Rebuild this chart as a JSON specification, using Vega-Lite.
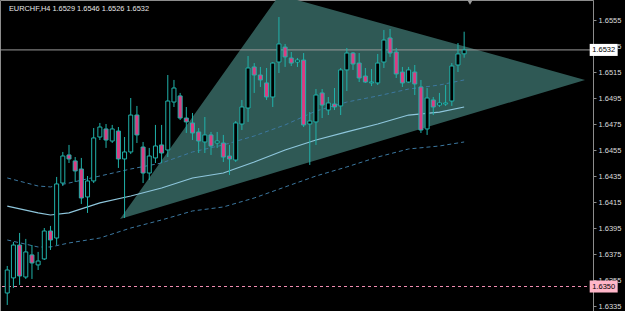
{
  "$schema": "https://vega.github.io/schema/vega-lite/v6.json",
  "autosize": "none",
  "padding": {"left": 0, "top": 0, "right": 32, "bottom": 0},
  "width": 593,
  "height": 313,
  "background": "#000000",
  "config": {
    "view": {"stroke": "#8c8c8c", "strokeWidth": 1}
  },
  "resolve": {"axis": {"y": "independent", "x": "independent"}},
  "datasets": {
    "candles": [
      {"i":0,"o":1.63450,"h":1.63658,"l":1.63358,"c":1.63627},
      {"i":1,"o":1.63566,"h":1.63843,"l":1.63489,"c":1.63819},
      {"i":2,"o":1.63819,"h":1.63912,"l":1.63512,"c":1.63581},
      {"i":3,"o":1.63573,"h":1.63866,"l":1.63558,"c":1.63766},
      {"i":4,"o":1.63743,"h":1.63819,"l":1.63558,"c":1.63681},
      {"i":5,"o":1.63666,"h":1.63766,"l":1.63627,"c":1.63696},
      {"i":6,"o":1.63712,"h":1.63950,"l":1.63704,"c":1.63927},
      {"i":7,"o":1.63927,"h":1.63966,"l":1.63781,"c":1.63858},
      {"i":8,"o":1.63873,"h":1.64343,"l":1.63819,"c":1.64289},
      {"i":9,"o":1.64296,"h":1.64535,"l":1.64273,"c":1.64504},
      {"i":10,"o":1.64512,"h":1.64589,"l":1.64450,"c":1.64481},
      {"i":11,"o":1.64466,"h":1.64496,"l":1.64304,"c":1.64389},
      {"i":12,"o":1.64404,"h":1.64489,"l":1.64135,"c":1.64181},
      {"i":13,"o":1.64189,"h":1.64350,"l":1.64066,"c":1.64312},
      {"i":14,"o":1.64312,"h":1.64719,"l":1.64296,"c":1.64643},
      {"i":15,"o":1.64650,"h":1.64758,"l":1.64627,"c":1.64727},
      {"i":16,"o":1.64712,"h":1.64750,"l":1.64566,"c":1.64627},
      {"i":17,"o":1.64619,"h":1.64743,"l":1.64604,"c":1.64712},
      {"i":18,"o":1.64696,"h":1.64727,"l":1.64412,"c":1.64481},
      {"i":19,"o":1.64481,"h":1.64650,"l":1.64027,"c":1.64535},
      {"i":20,"o":1.64535,"h":1.64950,"l":1.64519,"c":1.64819},
      {"i":21,"o":1.64819,"h":1.64889,"l":1.64604,"c":1.64666},
      {"i":22,"o":1.64573,"h":1.64612,"l":1.64296,"c":1.64373},
      {"i":23,"o":1.64373,"h":1.64566,"l":1.64319,"c":1.64504},
      {"i":24,"o":1.64489,"h":1.64743,"l":1.64450,"c":1.64581},
      {"i":25,"o":1.64589,"h":1.64743,"l":1.64450,"c":1.64527},
      {"i":26,"o":1.64550,"h":1.65127,"l":1.64496,"c":1.64927},
      {"i":27,"o":1.64919,"h":1.65089,"l":1.64881,"c":1.65027},
      {"i":28,"o":1.64966,"h":1.64989,"l":1.64781,"c":1.64796},
      {"i":29,"o":1.64796,"h":1.64881,"l":1.64681,"c":1.64766},
      {"i":30,"o":1.64758,"h":1.64835,"l":1.64627,"c":1.64681},
      {"i":31,"o":1.64689,"h":1.64719,"l":1.64527,"c":1.64619},
      {"i":32,"o":1.64612,"h":1.64804,"l":1.64527,"c":1.64666},
      {"i":33,"o":1.64666,"h":1.64689,"l":1.64512,"c":1.64581},
      {"i":34,"o":1.64604,"h":1.64689,"l":1.64566,"c":1.64619},
      {"i":35,"o":1.64604,"h":1.64666,"l":1.64458,"c":1.64496},
      {"i":36,"o":1.64504,"h":1.64589,"l":1.64358,"c":1.64481},
      {"i":37,"o":1.64473,"h":1.64773,"l":1.64458,"c":1.64758},
      {"i":38,"o":1.64750,"h":1.64935,"l":1.64704,"c":1.64881},
      {"i":39,"o":1.64873,"h":1.65273,"l":1.64766,"c":1.65181},
      {"i":40,"o":1.65189,"h":1.65219,"l":1.64989,"c":1.65127},
      {"i":41,"o":1.65127,"h":1.65189,"l":1.65035,"c":1.65089},
      {"i":42,"o":1.65066,"h":1.65181,"l":1.64935,"c":1.64958},
      {"i":43,"o":1.64958,"h":1.65227,"l":1.64881,"c":1.65219},
      {"i":44,"o":1.65227,"h":1.65573,"l":1.65142,"c":1.65366},
      {"i":45,"o":1.65342,"h":1.65366,"l":1.65189,"c":1.65266},
      {"i":46,"o":1.65258,"h":1.65304,"l":1.65196,"c":1.65219},
      {"i":47,"o":1.65227,"h":1.65258,"l":1.65189,"c":1.65242},
      {"i":48,"o":1.65242,"h":1.65296,"l":1.64727,"c":1.64743},
      {"i":49,"o":1.64750,"h":1.64842,"l":1.64435,"c":1.64773},
      {"i":50,"o":1.64766,"h":1.65019,"l":1.64589,"c":1.64973},
      {"i":51,"o":1.64989,"h":1.65019,"l":1.64796,"c":1.64896},
      {"i":52,"o":1.64858,"h":1.64958,"l":1.64819,"c":1.64912},
      {"i":53,"o":1.64904,"h":1.65027,"l":1.64858,"c":1.64881},
      {"i":54,"o":1.64889,"h":1.65181,"l":1.64819,"c":1.65166},
      {"i":55,"o":1.65166,"h":1.65335,"l":1.65004,"c":1.65296},
      {"i":56,"o":1.65296,"h":1.65304,"l":1.65166,"c":1.65212},
      {"i":57,"o":1.65219,"h":1.65296,"l":1.65073,"c":1.65104},
      {"i":58,"o":1.65119,"h":1.65181,"l":1.65066,"c":1.65073},
      {"i":59,"o":1.65066,"h":1.65173,"l":1.65042,"c":1.65073},
      {"i":60,"o":1.65066,"h":1.65289,"l":1.65050,"c":1.65219},
      {"i":61,"o":1.65227,"h":1.65473,"l":1.65181,"c":1.65396},
      {"i":62,"o":1.65412,"h":1.65481,"l":1.65266,"c":1.65296},
      {"i":63,"o":1.65304,"h":1.65335,"l":1.65104,"c":1.65135},
      {"i":64,"o":1.65150,"h":1.65189,"l":1.65035,"c":1.65066},
      {"i":65,"o":1.65073,"h":1.65189,"l":1.65066,"c":1.65166},
      {"i":66,"o":1.65150,"h":1.65204,"l":1.64973,"c":1.65058},
      {"i":67,"o":1.65035,"h":1.65089,"l":1.64681,"c":1.64704},
      {"i":68,"o":1.64712,"h":1.65027,"l":1.64666,"c":1.64950},
      {"i":69,"o":1.64935,"h":1.64958,"l":1.64819,"c":1.64881},
      {"i":70,"o":1.64896,"h":1.64989,"l":1.64881,"c":1.64912},
      {"i":71,"o":1.64904,"h":1.65050,"l":1.64889,"c":1.64912},
      {"i":72,"o":1.64927,"h":1.65219,"l":1.64889,"c":1.65196},
      {"i":73,"o":1.65204,"h":1.65373,"l":1.65150,"c":1.65289},
      {"i":74,"o":1.6529,"h":1.6546,"l":1.6526,"c":1.6532}
    ],
    "bands": [
      {"i":0,"ma":1.64119,"up":1.64335,"lo":1.63858},
      {"i":5,"ma":1.64066,"up":1.64273,"lo":1.63804},
      {"i":7,"ma":1.64050,"up":1.64266,"lo":1.63804},
      {"i":10,"ma":1.64066,"up":1.64296,"lo":1.63835},
      {"i":15,"ma":1.64143,"up":1.64350,"lo":1.63873},
      {"i":20,"ma":1.64196,"up":1.64404,"lo":1.63950},
      {"i":25,"ma":1.64258,"up":1.64450,"lo":1.64012},
      {"i":30,"ma":1.64335,"up":1.64535,"lo":1.64081},
      {"i":35,"ma":1.64373,"up":1.64589,"lo":1.64112},
      {"i":40,"ma":1.64458,"up":1.64658,"lo":1.64181},
      {"i":45,"ma":1.64550,"up":1.64743,"lo":1.64266},
      {"i":50,"ma":1.64627,"up":1.64850,"lo":1.64350},
      {"i":55,"ma":1.64689,"up":1.64919,"lo":1.64420},
      {"i":60,"ma":1.64750,"up":1.64966,"lo":1.64496},
      {"i":65,"ma":1.64819,"up":1.65019,"lo":1.64558},
      {"i":70,"ma":1.64842,"up":1.65050,"lo":1.64581},
      {"i":74,"ma":1.64881,"up":1.65089,"lo":1.64612}
    ],
    "tri": [
      {"i":18.26,"top":1.64019,"bot":1.64019},
      {"i":44.06,"top":1.65742,"bot":1.64386},
      {"i":93.58,"top":1.65089,"bot":1.65089}
    ],
    "levels": [
      {"p":1.6532,"label":"1.6532","kind":"bid"},
      {"p":1.6350,"label":"1.6350","kind":"alert"}
    ],
    "info": [
      {"t":"EURCHF,H4 1.6529 1.6546 1.6526 1.6532"}
    ],
    "shift": [
      {"i":74.95,"p":1.65689}
    ]
  },
  "layer": [
    {
      "data": {"name": "tri"},
      "mark": {"type": "area", "clip": true, "color": "#2f5955", "opacity": 1},
      "encoding": {
        "x": {"field": "i", "type": "quantitative", "scale": {"domain": [-0.366, 94.06], "nice": false, "zero": false}, "axis": null},
        "y": {"field": "top", "type": "quantitative", "scale": {"domain": [1.632962, 1.65704], "nice": false, "zero": false},
          "axis": {"orient": "right", "values": [1.6555,1.6535,1.6515,1.6495,1.6475,1.6455,1.6435,1.6415,1.6395,1.6375,1.6355,1.6335], "format": ".4f", "title": null, "labelOverlap": false, "labelSeparation": 0, "labelFont": "Liberation Sans", "labelFontSize": 7.5, "labelColor": "#dcdcdc", "tickColor": "#8c8c8c", "tickSize": 3, "labelPadding": 2, "domainColor": "#8c8c8c", "grid": false}},
        "y2": {"field": "bot"}
      }
    },
    {
      "data": {"name": "bands"},
      "mark": {"type": "line", "clip": true, "color": "#3c78a0", "strokeWidth": 1, "strokeDash": [4, 3]},
      "encoding": {
        "x": {"field": "i", "type": "quantitative", "scale": {"domain": [-0.366, 94.06], "nice": false, "zero": false}, "axis": null},
        "y": {"field": "up", "type": "quantitative", "scale": {"domain": [1.632962, 1.65704], "nice": false, "zero": false}, "axis": null}
      }
    },
    {
      "data": {"name": "bands"},
      "mark": {"type": "line", "clip": true, "color": "#3c78a0", "strokeWidth": 1, "strokeDash": [4, 3]},
      "encoding": {
        "x": {"field": "i", "type": "quantitative", "scale": {"domain": [-0.366, 94.06], "nice": false, "zero": false}, "axis": null},
        "y": {"field": "lo", "type": "quantitative", "scale": {"domain": [1.632962, 1.65704], "nice": false, "zero": false}, "axis": null}
      }
    },
    {
      "data": {"name": "bands"},
      "mark": {"type": "line", "clip": true, "color": "#8ec6dc", "strokeWidth": 1.2},
      "encoding": {
        "x": {"field": "i", "type": "quantitative", "scale": {"domain": [-0.366, 94.06], "nice": false, "zero": false}, "axis": null},
        "y": {"field": "ma", "type": "quantitative", "scale": {"domain": [1.632962, 1.65704], "nice": false, "zero": false}, "axis": null}
      }
    },
    {
      "data": {"name": "levels"},
      "transform": [{"filter": "datum.kind == 'bid'"}],
      "mark": {"type": "rule", "color": "#9a9a9a", "strokeWidth": 1},
      "encoding": {
        "y": {"field": "p", "type": "quantitative", "scale": {"domain": [1.632962, 1.65704], "nice": false, "zero": false}, "axis": null}
      }
    },
    {
      "data": {"name": "levels"},
      "transform": [{"filter": "datum.kind == 'alert'"}],
      "mark": {"type": "rule", "color": "#f08cb0", "strokeWidth": 1, "strokeDash": [3, 3]},
      "encoding": {
        "y": {"field": "p", "type": "quantitative", "scale": {"domain": [1.632962, 1.65704], "nice": false, "zero": false}, "axis": null}
      }
    },
    {
      "data": {"name": "candles"},
      "mark": {"type": "rule", "clip": true, "color": "#20b2aa", "strokeWidth": 1},
      "encoding": {
        "x": {"field": "i", "type": "quantitative", "scale": {"domain": [-0.366, 94.06], "nice": false, "zero": false}, "axis": null},
        "y": {"field": "l", "type": "quantitative", "scale": {"domain": [1.632962, 1.65704], "nice": false, "zero": false}, "axis": null},
        "y2": {"field": "h"}
      }
    },
    {
      "data": {"name": "candles"},
      "mark": {"type": "bar", "clip": true, "width": 4, "stroke": "#20b2aa", "strokeWidth": 1},
      "encoding": {
        "x": {"field": "i", "type": "quantitative", "scale": {"domain": [-0.366, 94.06], "nice": false, "zero": false}, "axis": null},
        "y": {"field": "o", "type": "quantitative", "scale": {"domain": [1.632962, 1.65704], "nice": false, "zero": false}, "axis": null},
        "y2": {"field": "c"},
        "fill": {"condition": {"test": "datum.c >= datum.o", "value": "#000000"}, "value": "#dc3c82"}
      }
    },
    {
      "data": {"name": "levels"},
      "mark": {"type": "point", "filled": true, "shape": "M-1,-0.43H1V0.43H-1Z", "size": 784, "opacity": 1, "strokeWidth": 0},
      "encoding": {
        "x": {"datum": 96.6, "type": "quantitative", "scale": {"domain": [-0.366, 94.06], "nice": false, "zero": false}, "axis": null},
        "y": {"field": "p", "type": "quantitative", "scale": {"domain": [1.632962, 1.65704], "nice": false, "zero": false}, "axis": null},
        "color": {"field": "kind", "type": "nominal", "scale": {"domain": ["bid", "alert"], "range": ["#ffffff", "#ffb6c8"]}, "legend": null}
      }
    },
    {
      "data": {"name": "levels"},
      "mark": {"type": "text", "font": "Liberation Sans", "fontSize": 7.5, "color": "#000000", "align": "center", "baseline": "middle"},
      "encoding": {
        "x": {"datum": 96.6, "type": "quantitative", "scale": {"domain": [-0.366, 94.06], "nice": false, "zero": false}, "axis": null},
        "y": {"field": "p", "type": "quantitative", "scale": {"domain": [1.632962, 1.65704], "nice": false, "zero": false}, "axis": null},
        "text": {"field": "label"}
      }
    },
    {
      "data": {"name": "shift"},
      "mark": {"type": "point", "filled": true, "shape": "triangle-down", "size": 40, "color": "#9a9a9a", "opacity": 1},
      "encoding": {
        "x": {"field": "i", "type": "quantitative", "scale": {"domain": [-0.366, 94.06], "nice": false, "zero": false}, "axis": null},
        "y": {"field": "p", "type": "quantitative", "scale": {"domain": [1.632962, 1.65704], "nice": false, "zero": false}, "axis": null}
      }
    },
    {
      "data": {"name": "info"},
      "mark": {"type": "text", "font": "Liberation Sans", "fontSize": 7.4, "color": "#e8e8e8", "align": "left", "baseline": "alphabetic"},
      "encoding": {
        "x": {"datum": 0.27, "type": "quantitative", "scale": {"domain": [-0.366, 94.06], "nice": false, "zero": false}, "axis": null},
        "y": {"datum": 1.65616, "type": "quantitative", "scale": {"domain": [1.632962, 1.65704], "nice": false, "zero": false}, "axis": null},
        "text": {"field": "t"}
      }
    }
  ]
}
